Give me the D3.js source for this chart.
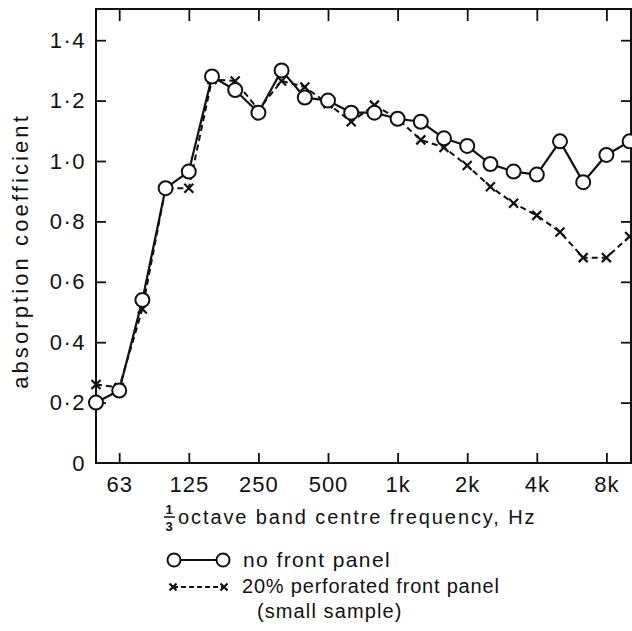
<!DOCTYPE html>
<html><head><meta charset="utf-8">
<script src="https://cdn.jsdelivr.net/npm/d3@7"></script>
<style>
html,body{margin:0;padding:0;background:#fff;}
text{font-family:"Liberation Sans",Arial,sans-serif;fill:#111;}
</style></head>
<body>
<svg id="c" width="632" height="631"></svg>
<script>
const bands = ["50","63","80","100","125","160","200","250","315","400","500","630","800","1k","1.25k","1.6k","2k","2.5k","3.15k","4k","5k","6.3k","8k","10k"];
const noPanel = [0.20,0.24,0.54,0.91,0.965,1.28,1.235,1.16,1.30,1.21,1.20,1.16,1.16,1.14,1.13,1.075,1.05,0.99,0.965,0.955,1.065,0.93,1.02,1.065];
const perforated = [0.26,0.25,0.51,0.91,0.91,1.27,1.265,1.17,1.265,1.245,1.19,1.13,1.185,1.14,1.07,1.045,0.985,0.915,0.86,0.82,0.765,0.68,0.68,0.75];
const xTickBands = ["63","125","250","500","1k","2k","4k","8k"];
const yTicks = [0,0.2,0.4,0.6,0.8,1.0,1.2,1.4];
const yTickLabels = ["0","0·2","0·4","0·6","0·8","1·0","1·2","1·4"];
const legendLabels = ["no front panel","20% perforated front panel","(small sample)"];

const svg = d3.select("#c");
const L=96, R=631, T=9, B=463;
const x = d3.scaleLinear().domain([0, bands.length-1]).range([96, 96+23.2*(bands.length-1)]);
const y = d3.scaleLinear().domain([0,1.5]).range([B, B-302*1.5]);

// frame
svg.append("rect").attr("x",L).attr("y",T).attr("width",R-L).attr("height",B-T)
  .attr("fill","none").attr("stroke","#111").attr("stroke-width",2);

// left axis
const gl = svg.append("g").attr("transform",`translate(${L},0)`)
  .call(d3.axisLeft(y).tickValues(yTicks).tickSize(-10).tickPadding(10)
    .tickFormat((d,i)=>yTickLabels[i]));
gl.select(".domain").remove();
gl.selectAll("line").attr("stroke","#111").attr("stroke-width",1.8);
gl.selectAll("line").filter(d=>d===0).remove();
gl.selectAll("text").style("font-size","22px").style("letter-spacing","1.5px")
  .attr("font-family","Liberation Sans, Arial, sans-serif").attr("fill","#111");

// right axis ticks
const gr = svg.append("g").attr("transform",`translate(${R},0)`)
  .call(d3.axisRight(y).tickValues(yTicks.filter(v=>v>0)).tickSize(-10).tickFormat(""));
gr.select(".domain").remove();
gr.selectAll("line").attr("stroke","#111").attr("stroke-width",1.8);

// bottom axis
const gb = svg.append("g").attr("transform",`translate(0,${B})`)
  .call(d3.axisBottom(x).tickValues(xTickBands.map(d=>bands.indexOf(d))).tickSize(-10).tickPadding(13)
    .tickFormat(i=>bands[i]));
gb.select(".domain").remove();
gb.selectAll("line").attr("stroke","#111").attr("stroke-width",1.8);
gb.selectAll("text").style("font-size","22px").style("letter-spacing","1px")
  .attr("font-family","Liberation Sans, Arial, sans-serif").attr("fill","#111");

// top axis ticks
const gt = svg.append("g").attr("transform",`translate(0,${T})`)
  .call(d3.axisTop(x).tickValues(xTickBands.map(d=>bands.indexOf(d))).tickSize(-12).tickFormat(""));
gt.select(".domain").remove();
gt.selectAll("line").attr("stroke","#111").attr("stroke-width",1.8);

// y title
svg.append("text").attr("transform","translate(28,251) rotate(-90)")
  .attr("text-anchor","middle").style("font-size","22px").style("letter-spacing","3.1px")
  .text("absorption coefficient");

// x title with fraction
svg.append("text").attr("x",169).attr("y",514).attr("text-anchor","middle").style("font-size","13px").style("font-weight","bold").text("1");
svg.append("line").attr("x1",164).attr("x2",175).attr("y1",517).attr("y2",517).attr("stroke","#111").attr("stroke-width",1.5);
svg.append("text").attr("x",169).attr("y",531).attr("text-anchor","middle").style("font-size","13px").style("font-weight","bold").text("3");
svg.append("text").attr("x",178).attr("y",524).style("font-size","20px").style("letter-spacing","1.9px")
  .text("octave band centre frequency, Hz");

// series
const line = d3.line().x((d,i)=>x(i)).y(d=>y(d));
svg.append("path").datum(perforated).attr("d",line).attr("fill","none")
  .attr("stroke","#111").attr("stroke-width",2).attr("stroke-dasharray","6,4");
const cross = (g, cx, cy, s) => {
  g.append("path").attr("d",`M${cx-s},${cy-s}L${cx+s},${cy+s}M${cx-s},${cy+s}L${cx+s},${cy-s}`)
   .attr("stroke","#111").attr("stroke-width",2.2).attr("fill","none");
};
const gx = svg.append("g");
perforated.forEach((v,i)=>cross(gx, x(i), y(v), 4.5));

svg.append("path").datum(noPanel).attr("d",line).attr("fill","none")
  .attr("stroke","#111").attr("stroke-width",2.2);
svg.append("g").selectAll("circle").data(noPanel).join("circle")
  .attr("cx",(d,i)=>x(i)).attr("cy",d=>y(d)).attr("r",7)
  .attr("fill","#fff").attr("stroke","#111").attr("stroke-width",2);

// legend
const lg = svg.append("g");
lg.append("line").attr("x1",174).attr("x2",223).attr("y1",560).attr("y2",560).attr("stroke","#111").attr("stroke-width",2);
lg.append("circle").attr("cx",174).attr("cy",560).attr("r",6.5).attr("fill","#fff").attr("stroke","#111").attr("stroke-width",2);
lg.append("circle").attr("cx",223).attr("cy",560).attr("r",6.5).attr("fill","#fff").attr("stroke","#111").attr("stroke-width",2);
lg.append("line").attr("x1",173).attr("x2",224).attr("y1",587).attr("y2",587).attr("stroke","#111").attr("stroke-width",2).attr("stroke-dasharray","5,3");
cross(lg,173,587,3.5); cross(lg,224,587,3.5);
lg.append("text").attr("x",243).attr("y",567).style("font-size","21px").style("letter-spacing","1.4px").text(legendLabels[0]);
lg.append("text").attr("x",242).attr("y",593).style("font-size","20px").style("letter-spacing","0.8px").text(legendLabels[1]);
lg.append("text").attr("x",257).attr("y",618).style("font-size","20px").style("letter-spacing","1.1px").text(legendLabels[2]);
</script>
</body></html>
